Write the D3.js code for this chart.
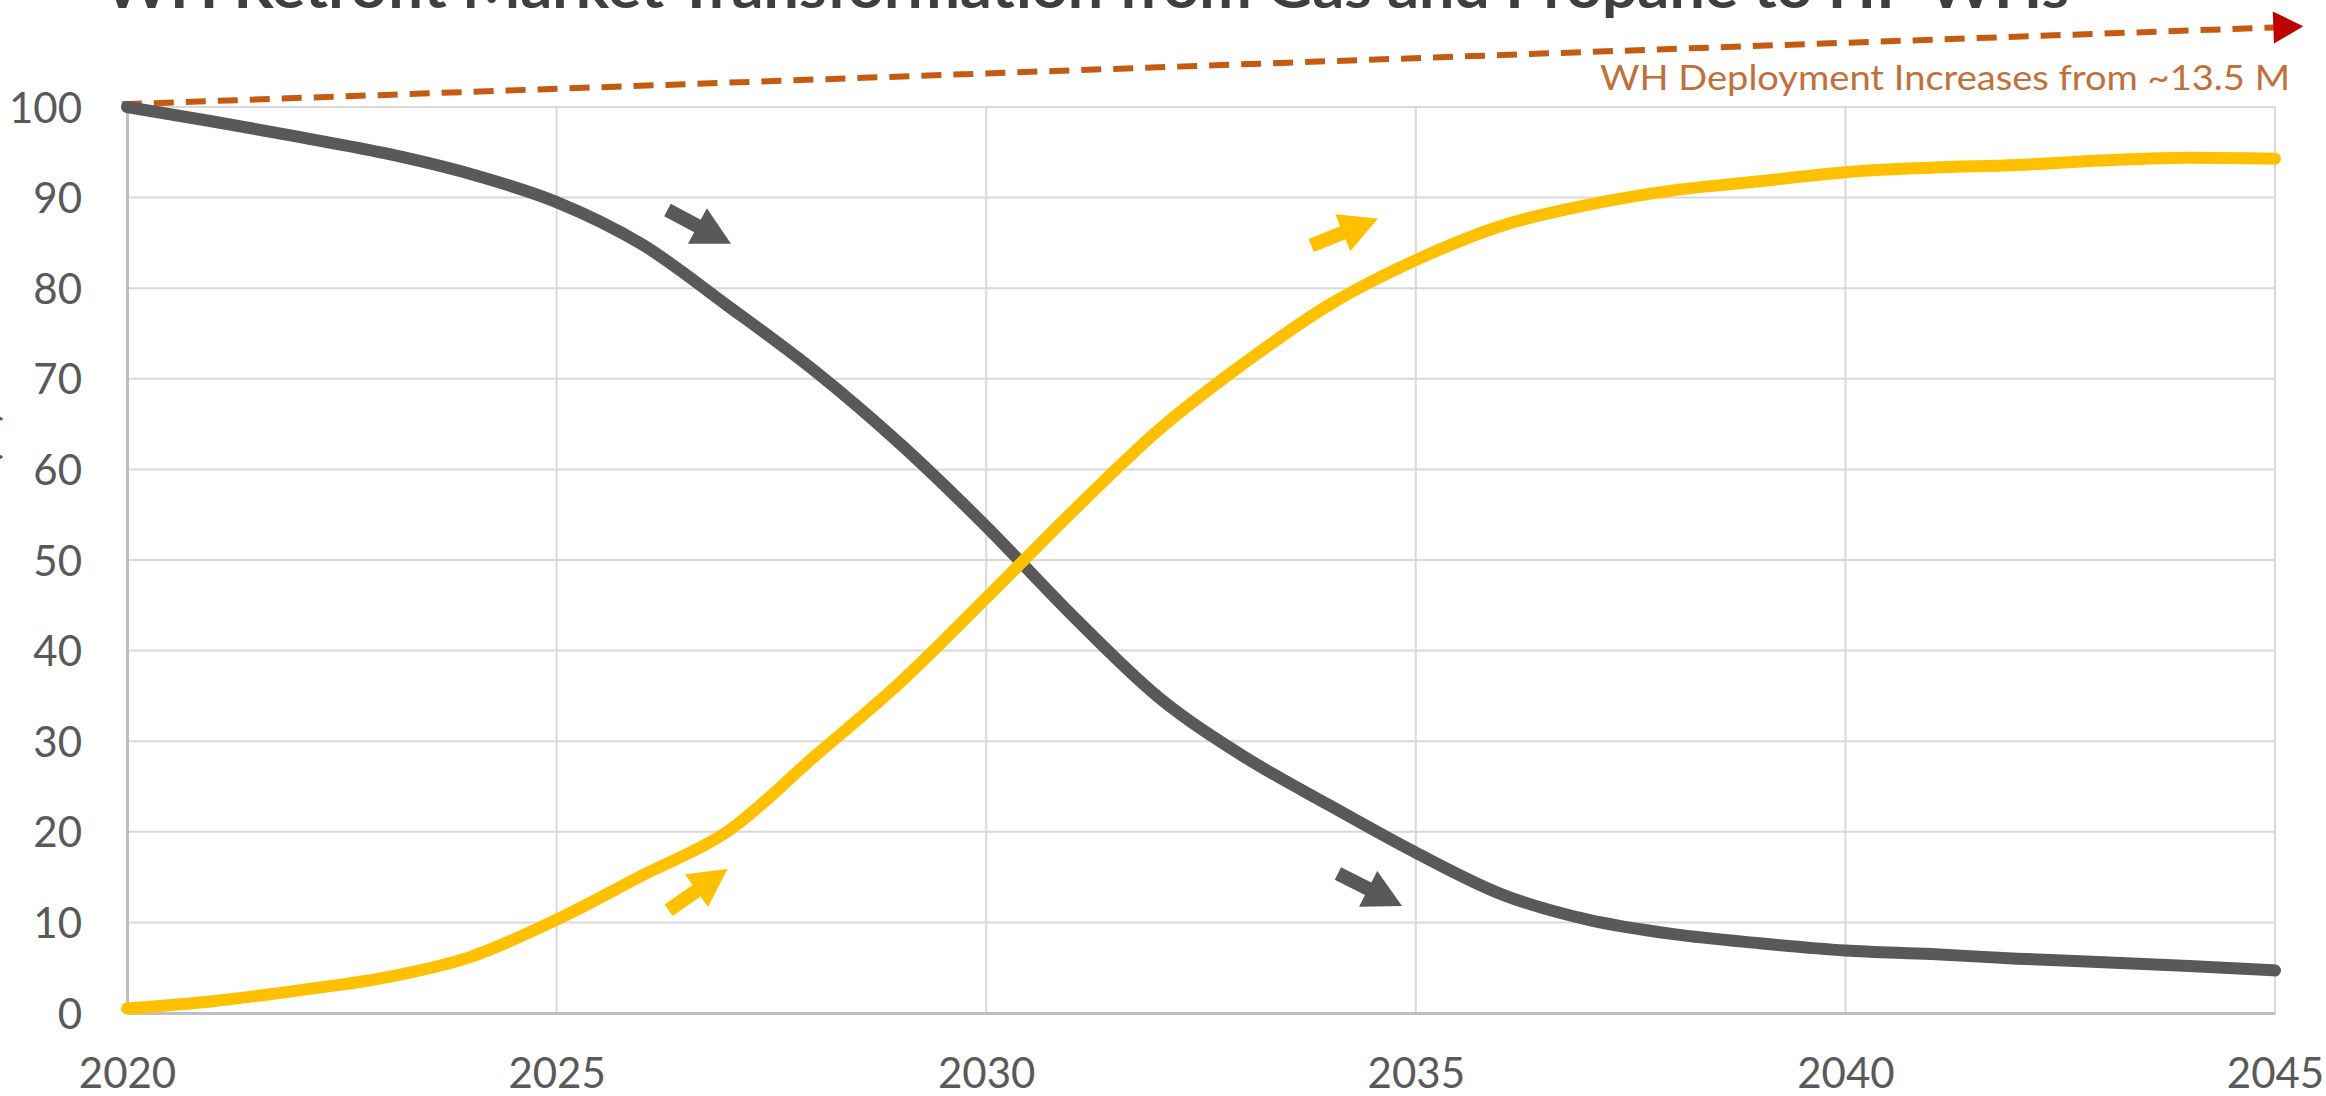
<!DOCTYPE html>
<html>
<head>
<meta charset="utf-8">
<script src="https://cdn.jsdelivr.net/npm/d3@7"></script>
<style>
  html, body { margin: 0; padding: 0; background: #ffffff; overflow: hidden; }
  svg { display: block; }
  text { font-family: Lato, "Open Sans", sans-serif; }
</style>
</head>
<body>
<svg id="chart" width="2326" height="1096"></svg>
<script>
// ---------------- DATA ----------------
const years = [2020, 2021, 2022, 2023, 2024, 2025, 2026, 2027, 2028, 2029, 2030, 2031, 2032,
               2033, 2034, 2035, 2036, 2037, 2038, 2039, 2040, 2041, 2042, 2043, 2044, 2045];
const gasPropaneShare = [100, 98.4, 96.7, 94.9, 92.6, 89.5, 84.8, 78.0, 70.9, 62.8, 53.7, 43.9, 34.9,
                         28.3, 22.9, 17.7, 13.1, 10.3, 8.7, 7.7, 6.9, 6.5, 6.0, 5.6, 5.2, 4.7];
const hpwhShare = [0.5, 1.3, 2.5, 3.9, 6.2, 10.3, 15.2, 20.1, 28.3, 36.5, 45.8, 55.3, 64.3,
                   71.7, 78.2, 83.1, 86.9, 89.2, 90.8, 91.8, 92.8, 93.3, 93.6, 94.1, 94.4, 94.3];
const xTicks = [2020, 2025, 2030, 2035, 2040, 2045];
const yTicks = [0, 10, 20, 30, 40, 50, 60, 70, 80, 90, 100];
const titleText = "WH Retrofit Market Transformation from Gas and Propane to HP WHs";
const yAxisTitle = "Market Share (%)";
const deploymentLabel = "WH Deployment Increases from ~13.5 M";
// deployment trend arrow (in data units: year, value)
const deploymentArrow = [[2019.94, 100.3], [2045.33, 108.9]];
// small direction arrows: tip (year, value), angle in degrees, series
const directionArrows = [
  { year: 2027.03, value: 84.9, angle: 28, series: "gas" },
  { year: 2034.84, value: 11.8, angle: 27, series: "gas" },
  { year: 2034.56, value: 87.7, angle: -22, series: "hp" },
  { year: 2026.99, value: 15.9, angle: -35, series: "hp" }
];

// ---------------- LAYOUT ----------------
const colors = { gas: "#595959", hp: "#ffc000", grid: "#d9d9d9", axis: "#bfbfbf",
                 label: "#595959", title: "#3f3f3f", dash: "#c55a11", head: "#c00000",
                 note: "#c0703a" };
const svg = d3.select("#chart");
const x = d3.scaleLinear().domain([2020, 2045]).range([127, 2275]);
const y = d3.scaleLinear().domain([0, 100]).range([1013, 107]);

// title (cut off at top, as in the reference)
svg.append("text")
  .attr("x", 104).attr("y", 8)
  .attr("font-size", 58).attr("font-weight", 700)
  .attr("fill", colors.title)
  .attr("textLength", 1965).attr("lengthAdjust", "spacingAndGlyphs")
  .text(titleText);

// y-axis title (mostly clipped at left edge, as in the reference)
svg.append("text")
  .attr("transform", `translate(-3, ${y(50)}) rotate(-90)`)
  .attr("text-anchor", "middle")
  .attr("font-size", 40).attr("fill", colors.label)
  .text(yAxisTitle);

// gridlines
const grid = svg.append("g");
grid.selectAll("line.h").data(yTicks.filter(d => d > 0)).enter().append("line")
  .attr("x1", x(2020)).attr("x2", x(2045))
  .attr("y1", d => y(d)).attr("y2", d => y(d))
  .attr("stroke", colors.grid).attr("stroke-width", 2);
grid.selectAll("line.v").data(xTicks.filter(d => d > 2020)).enter().append("line")
  .attr("x1", d => x(d)).attr("x2", d => x(d))
  .attr("y1", y(0)).attr("y2", y(100))
  .attr("stroke", colors.grid).attr("stroke-width", 2);

// axes
const xAxis = d3.axisBottom(x).tickValues(xTicks).tickFormat(d3.format("d")).tickSize(0).tickPadding(0);
const gx = svg.append("g").attr("transform", `translate(0, ${y(0)})`).call(xAxis);
gx.select(".domain").attr("stroke", colors.axis).attr("stroke-width", 3);
gx.selectAll("text").attr("font-size", 42).attr("fill", colors.label)
  .attr("font-family", "Lato, 'Open Sans', sans-serif")
  .attr("y", 75).attr("dy", 0);

const yAxis = d3.axisLeft(y).tickValues(yTicks).tickSize(0).tickPadding(45);
const gy = svg.append("g").attr("transform", `translate(${x(2020)}, 0)`).call(yAxis);
gy.select(".domain").attr("stroke", colors.axis).attr("stroke-width", 3);
gy.selectAll("text").attr("font-size", 42).attr("fill", colors.label)
  .attr("font-family", "Lato, 'Open Sans', sans-serif")
  .attr("dy", "0.36em");

// deployment dashed arrow
const dStart = [x(deploymentArrow[0][0]), y(deploymentArrow[0][1])];
const dEnd = [x(deploymentArrow[1][0]), y(deploymentArrow[1][1])];
const dAng = Math.atan2(dEnd[1] - dStart[1], dEnd[0] - dStart[0]);
const headLen = 30, headW = 32;
svg.append("line")
  .attr("x1", dStart[0]).attr("y1", dStart[1])
  .attr("x2", dEnd[0] - headLen * Math.cos(dAng) + 2).attr("y2", dEnd[1] - headLen * Math.sin(dAng))
  .attr("stroke", colors.dash).attr("stroke-width", 6)
  .attr("stroke-dasharray", "20,12");
svg.append("path")
  .attr("transform", `translate(${dEnd[0]}, ${dEnd[1]}) rotate(${dAng * 180 / Math.PI})`)
  .attr("d", `M0,0 L${-headLen},${-headW / 2} L${-headLen},${headW / 2} Z`)
  .attr("fill", colors.head);

svg.append("text")
  .attr("x", 2290).attr("y", 90)
  .attr("text-anchor", "end")
  .attr("font-size", 34).attr("fill", colors.note)
  .attr("textLength", 690).attr("lengthAdjust", "spacingAndGlyphs")
  .text(deploymentLabel);

// series lines
const line = d3.line().curve(d3.curveMonotoneX)
  .x((d, i) => x(years[i])).y(d => y(d));
svg.append("path").attr("d", line(gasPropaneShare))
  .attr("fill", "none").attr("stroke", colors.gas).attr("stroke-width", 12)
  .attr("stroke-linecap", "round").attr("stroke-linejoin", "round");
svg.append("path").attr("d", line(hpwhShare))
  .attr("fill", "none").attr("stroke", colors.hp).attr("stroke-width", 12)
  .attr("stroke-linecap", "round").attr("stroke-linejoin", "round");

// direction arrows
const L = 72, H = 38, W = 40, S = 14;
const arrowPath = `M0,0 L${-H},${-W / 2} L${-H},${-S / 2} L${-L},${-S / 2} L${-L},${S / 2} L${-H},${S / 2} L${-H},${W / 2} Z`;
svg.selectAll("path.dir").data(directionArrows).enter().append("path")
  .attr("class", "dir")
  .attr("transform", d => `translate(${x(d.year)}, ${y(d.value)}) rotate(${d.angle})`)
  .attr("d", arrowPath)
  .attr("fill", d => colors[d.series]);
</script>
</body>
</html>
